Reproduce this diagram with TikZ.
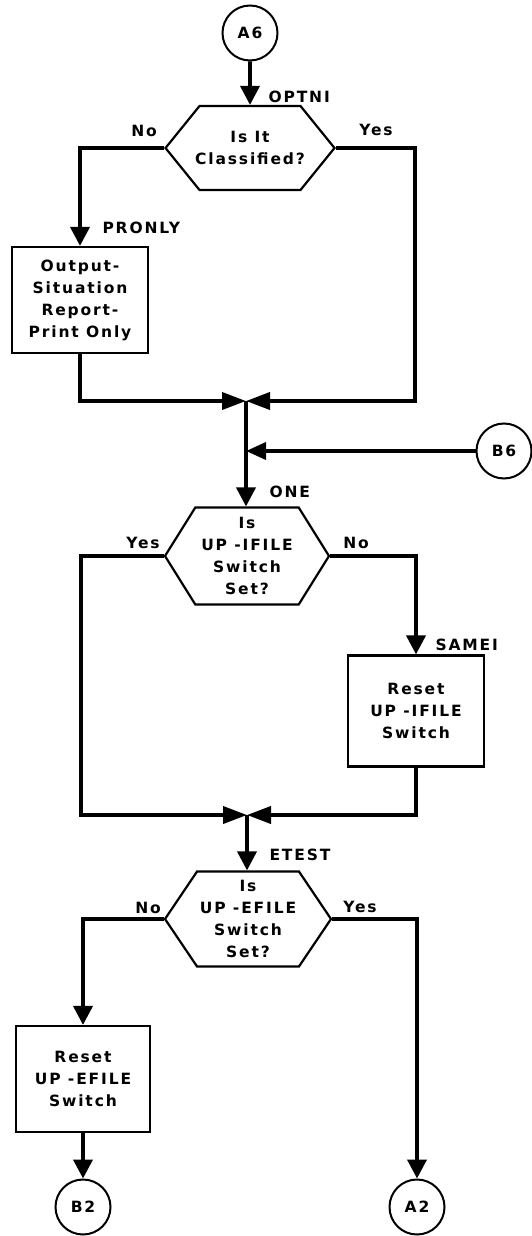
\documentclass[tikz,border=0pt]{standalone}
\usepackage{fontspec}
\newfontfamily\leroy[LetterSpace=12]{DejaVu Sans}
\usetikzlibrary{arrows.meta,shapes.symbols}

\begin{document}
\begin{tikzpicture}[x=1pt,y=-1pt,>={Triangle[length=19pt,width=19pt]},
 font=\leroy\bfseries\fontsize{15.5}{22}\selectfont,
 flow/.style={line width=3.8pt},
 mergeflow/.style={line width=3.8pt,-{Triangle[length=24pt,width=17pt]}},
 conn/.style={circle,draw,line width=2pt,minimum size=55pt,inner sep=0pt},
 proc/.style={draw,line width=2.2pt,align=center,inner sep=2pt},
 test/.style={signal,signal to=east and west,draw,line width=2.2pt,align=center,inner sep=1pt,inner xsep=-8pt},
 lab/.style={anchor=west}]
\useasboundingbox (0,0) rectangle (532,1236);
\node[conn] (a6) at (250,33) {A6};
\node[test,signal pointer angle=102,minimum width=169pt,minimum height=84pt] (q1) at (250,148) {Is It\\Classified?};
\node[proc,minimum width=136pt,minimum height=106pt] (pronly) at (80,300) {Output-\\Situation\\Report-\\Print Only};
\coordinate (m1) at (246,401);
\coordinate (r1) at (415,401);
\node[conn] (b6) at (504,451) {B6};
\node[test,signal pointer angle=116,minimum width=164pt,minimum height=97pt] (q2) at (247,556) {Is\\UP -IFILE\\Switch\\Set?};
\node[proc,minimum width=136pt,minimum height=111pt] (samei) at (416,711) {Reset\\UP -IFILE\\Switch};
\coordinate (m2) at (247,815);
\coordinate (l2) at (81,815);
\node[test,signal pointer angle=112,minimum width=166pt,minimum height=95pt] (q3) at (248,919) {Is\\UP -EFILE\\Switch\\Set?};
\node[proc,minimum width=134pt,minimum height=106pt] (reset) at (83,1079) {Reset\\UP -EFILE\\Switch};
\node[conn] (b2) at (83,1207) {B2};
\node[conn] (a2) at (417,1207) {A2};
% entry names and branch labels
\node[lab] (optni) at (265,97) {OPTNI};
\node (no1) at (144,131) {No};
\node (yes1) at (376,130) {Yes};
\node[lab] (pronlyl) at (99,228) {PRONLY};
\node[lab] (one) at (266,492) {ONE};
\node (yes2) at (143,543) {Yes};
\node (no2) at (356,543) {No};
\node[lab] (sameil) at (432,645) {SAMEI};
\node[lab] (etest) at (266,855) {ETEST};
\node (no3) at (148,908) {No};
\node (yes3) at (360,907) {Yes};
% connectors
\draw[flow,->] (a6) -- (q1);
\draw[flow,->] (q1.west) -| (pronly);
\draw[mergeflow] (pronly) |- (m1);
\draw[mergeflow] (q1.east) -| (r1) -- (m1);
\draw[flow,->] (m1) -- (m1 |- q2.north);
\draw[flow,-{Triangle[length=20pt,width=17pt]}] (b6) -- (b6 -| m1);
\draw[mergeflow] (q2.west) -| (l2) -- (m2);
\draw[flow,->] (q2.east) -| (samei);
\draw[mergeflow] (samei) |- (m2);
\draw[flow,->] (m2) -- (m2 |- q3.north);
\draw[flow,->] (q3.west) -| (reset);
\draw[flow,->] (reset) -- (b2);
\draw[flow,->] (q3.east) -| (a2);
\end{tikzpicture}
\end{document}
